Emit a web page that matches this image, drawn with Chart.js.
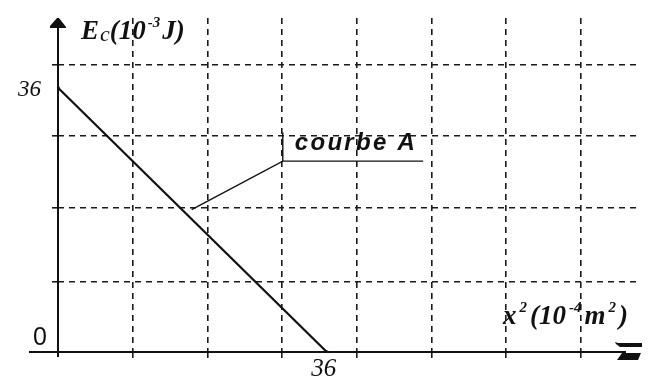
<!DOCTYPE html>
<html>
<head>
<meta charset="utf-8">
<script src="https://cdn.jsdelivr.net/npm/chart.js@4.4.1/dist/chart.umd.min.js"></script>
<style>
  body { margin: 0; background: #fff; }
  canvas { display: block; }
</style>
</head>
<body>
<canvas id="chart" width="650" height="381"></canvas>
<script>
// Daten der Kurve A: Ec in Abhängigkeit von x²
const curveX = [0, 36];
const curveY = [36, 0];

// Gitterlinien (Achsenwerte)
const gridX = [10, 20, 30, 40, 50, 60, 70];
const gridY = [9.6, 19.6, 29.4, 39.1];
const xMax = 77.4;
const yMax = 45.5;

// Beschriftungen
const xTickLabels = [{ value: 36, text: '36' }];
const yTickLabels = [{ value: 36, text: '36' }];
const originLabel = '0';
const curveName = 'courbe A';

// Hinweislinie zur Kurve (Datenkoordinaten)
const leaderX = [17.9, 30.1, 48.9];
const leaderY = [19.4, 26.0, 26.0];
const leaderTickX = [30.1, 30.1];
const leaderTickY = [26.0, 29.9];

const INK = '#111';

const toPoints = (xs, ys) => xs.map((x, i) => ({ x: x, y: ys[i] }));

// Zeichnet Achsen, Pfeile und Texte
const axisDecor = {
    id: 'axisDecor',
    afterDraw(chart) {
        const ctx = chart.ctx;
        const a = chart.chartArea;
        const xs = chart.scales.x;
        const ys = chart.scales.y;
        const x0 = xs.getPixelForValue(0);
        const y0 = ys.getPixelForValue(0);

        ctx.save();
        ctx.strokeStyle = INK;
        ctx.fillStyle = INK;
        ctx.lineWidth = 2;

        // x-Achse
        ctx.beginPath();
        ctx.moveTo(x0 - 29, y0);
        ctx.lineTo(a.right - 10, y0);
        ctx.stroke();
        // y-Achse
        ctx.beginPath();
        ctx.moveTo(x0, y0 + 5);
        ctx.lineTo(x0, a.top + 8);
        ctx.stroke();

        // Pfeil oben
        ctx.beginPath();
        ctx.moveTo(x0 - 1, a.top);
        ctx.lineTo(x0 + 1, a.top);
        ctx.lineTo(x0 + 8, a.top + 9);
        ctx.lineTo(x0 + 8, a.top + 10);
        ctx.lineTo(x0 - 8, a.top + 10);
        ctx.lineTo(x0 - 8, a.top + 8);
        ctx.closePath();
        ctx.fill();

        // Pfeil rechts (Doppelbalken)
        const r = a.right + 6;
        ctx.beginPath();
        ctx.moveTo(r - 27, y0 - 10);
        ctx.lineTo(r - 24, y0 - 9);
        ctx.lineTo(r, y0 - 9);
        ctx.lineTo(r, y0 - 5);
        ctx.lineTo(r - 22, y0 - 5);
        ctx.lineTo(r - 26, y0 - 8);
        ctx.closePath();
        ctx.fill();
        ctx.beginPath();
        ctx.moveTo(r - 20, y0 + 1);
        ctx.lineTo(r - 1, y0 + 1);
        ctx.lineTo(r - 4, y0 + 8);
        ctx.lineTo(r - 25, y0 + 8);
        ctx.closePath();
        ctx.fill();

        // Achsenwerte
        ctx.font = 'italic 25px "Liberation Serif", serif';
        ctx.textAlign = 'center';
        ctx.textBaseline = 'top';
        xTickLabels.forEach(t => {
            ctx.fillText(t.text, xs.getPixelForValue(t.value) - 3, y0 + 5);
        });
        ctx.font = 'italic 23px "Liberation Serif", serif';
        ctx.textAlign = 'right';
        ctx.textBaseline = 'middle';
        yTickLabels.forEach(t => {
            ctx.fillText(t.text, x0 - 17, ys.getPixelForValue(t.value) + 2);
        });
        ctx.font = '25px "Liberation Sans Narrow", "Liberation Sans", sans-serif';
        ctx.fillText(originLabel, x0 - 11, y0 - 14);

        // Achsentitel y: Ec(10^-3 J)
        ctx.textAlign = 'left';
        ctx.textBaseline = 'alphabetic';
        let px = x0 + 23;
        const by = a.top + 21;
        const part = (text, font, dy, gap) => {
            ctx.font = font;
            ctx.fillText(text, px, by + dy);
            px += ctx.measureText(text).width + gap;
        };
        const big = 'bold italic 27px "Liberation Serif", serif';
        const sup = 'bold italic 15px "Liberation Serif", serif';
        part('E', big, 0, 1);
        part('c', 'italic 22px "Liberation Serif", serif', 2, 0);
        part('(10', big, 0, 2);
        part('-3', sup, -12, 2);
        part('J)', big, 0, 0);

        // Achsentitel x: x²(10^-4 m²)
        px = a.right - 133;
        const bb = y0 - 28;
        const partX = (text, font, dy) => {
            ctx.font = font;
            ctx.fillText(text, px, bb + dy);
            px += ctx.measureText(text).width + 3;
        };
        partX('x', big, 0);
        partX('2', sup, -12);
        partX('(10', big, 0);
        partX('-4', sup, -12);
        partX('m', big, 0);
        partX('2', sup, -12);
        partX(')', big, 0);

        // Kurvenname
        ctx.font = 'bold italic 24px "Liberation Sans", Arial, sans-serif';
        ctx.letterSpacing = '2.3px';
        ctx.fillText(curveName,
            xs.getPixelForValue(leaderX[1]) + 12,
            ys.getPixelForValue(leaderY[1]) - 11);
        ctx.restore();
    }
};

const gridStyle = () => ({
    color: '#1a1a1a',
    lineWidth: 1.6,
    drawTicks: true,
    tickLength: 6,
    tickColor: '#1a1a1a',
    tickWidth: 1.6,
    tickBorderDash: [],
});

new Chart(document.getElementById('chart'), {
    type: 'line',
    data: {
        datasets: [
            {
                label: curveName,
                data: toPoints(curveX, curveY),
                borderColor: INK,
                borderWidth: 2.2,
                pointRadius: 1.8,
                pointBackgroundColor: INK,
                pointBorderWidth: 0,
                tension: 0,
            },
            {
                label: 'leader',
                data: toPoints(leaderX, leaderY),
                borderColor: INK,
                borderWidth: 1.4,
                pointRadius: 0,
                tension: 0,
            },
            {
                label: 'leaderTick',
                data: toPoints(leaderTickX, leaderTickY),
                borderColor: INK,
                borderWidth: 1.4,
                pointRadius: 0,
                tension: 0,
            }
        ]
    },
    options: {
        responsive: false,
        animation: false,
        devicePixelRatio: 1,
        layout: {
            padding: { left: 58, top: 18, right: 14, bottom: 29 }
        },
        plugins: {
            legend: { display: false },
            tooltip: { enabled: false }
        },
        scales: {
            x: {
                type: 'linear',
                min: 0,
                max: xMax,
                afterBuildTicks: (scale) => {
                    scale.ticks = gridX.map(v => ({ value: v }));
                },
                afterFit: (scale) => { scale.height = 0; },
                ticks: { display: false },
                grid: gridStyle(),
                border: { display: false, dash: [6, 5] }
            },
            y: {
                type: 'linear',
                min: 0,
                max: yMax,
                afterBuildTicks: (scale) => {
                    scale.ticks = gridY.map(v => ({ value: v }));
                },
                afterFit: (scale) => { scale.width = 0; },
                ticks: { display: false },
                grid: gridStyle(),
                border: { display: false, dash: [6, 5] }
            }
        }
    },
    plugins: [axisDecor]
});
</script>
</body>
</html>
